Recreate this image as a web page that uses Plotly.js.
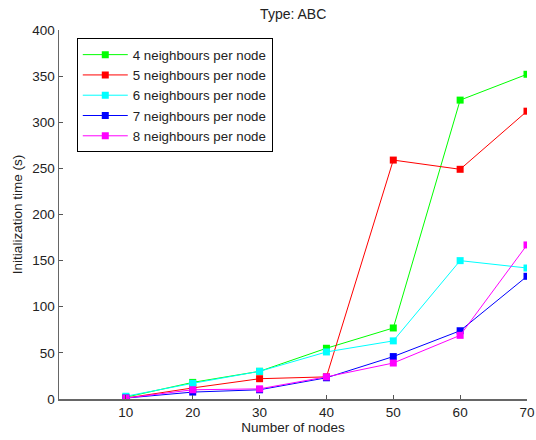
<!DOCTYPE html>
<html>
<head>
<meta charset="utf-8">
<script src="https://cdn.plot.ly/plotly-3.0.1.min.js"></script>
<style>html,body{margin:0;padding:0;background:#fff;}#chart{width:536px;height:440px;}</style>
</head>
<body>
<div id="chart"></div>
<script>
const nodes = [10, 20, 30, 40, 50, 60, 70];
const seriesNames = ["4 neighbours per node", "5 neighbours per node", "6 neighbours per node", "7 neighbours per node", "8 neighbours per node"];
const n4 = [2, 18, 30, 55, 77, 324, 352];
const n5 = [1, 12, 22, 24, 259, 249, 312];
const n6 = [3, 17, 30, 51, 63, 150, 142];
const n7 = [1, 7.5, 10, 23, 46, 74, 133];
const n8 = [1, 10, 11, 24, 39, 69, 167];
const colors = ["#00ff00", "#ff0000", "#00ffff", "#0000ff", "#ff00ff"];
const values = [n4, n5, n6, n7, n8];

const traces = values.map((v, i) => ({
  x: nodes, y: v, name: seriesNames[i], type: "scatter", mode: "lines+markers",
  line: {color: colors[i], width: 1},
  marker: {symbol: "square", size: 7, color: colors[i]}
}));

const layout = {
  width: 536, height: 440,
  margin: {l: 59, r: 9, t: 30, b: 41},
  paper_bgcolor: "#fff", plot_bgcolor: "#fff",
  font: {family: "Liberation Sans, Arial, sans-serif", size: 13.5, color: "#222"},
  title: {text: "Type: ABC", x: 0.547, xanchor: "center", y: 0.968, yanchor: "middle", font: {size: 14, color: "#222"}},
  showlegend: true,
  legend: {x: 0.038, y: 0.977, xanchor: "left", yanchor: "top", bordercolor: "#000", borderwidth: 1,
    bgcolor: "#fff", font: {size: 13.3, color: "#222"}, itemwidth: 45},
  xaxis: {range: [0, 70], tickvals: [10, 20, 30, 40, 50, 60, 70], ticks: "inside", ticklen: 4,
    tickcolor: "#555", showline: true, linecolor: "#666", linewidth: 1.5, showgrid: false, zeroline: false,
    title: {text: "Number of nodes", standoff: 3, font: {size: 13.5}}, tickfont: {size: 13.5}},
  yaxis: {range: [0, 400], dtick: 50, ticks: "inside", ticklen: 4, tickcolor: "#555",
    showline: true, linecolor: "#666", linewidth: 1.5, showgrid: false, zeroline: false,
    title: {text: "Initialization time (s)", standoff: 6, font: {size: 13.5}}, tickfont: {size: 13.5}}
};
Plotly.newPlot("chart", traces, layout, {displayModeBar: false, staticPlot: true});
</script>
</body>
</html>
